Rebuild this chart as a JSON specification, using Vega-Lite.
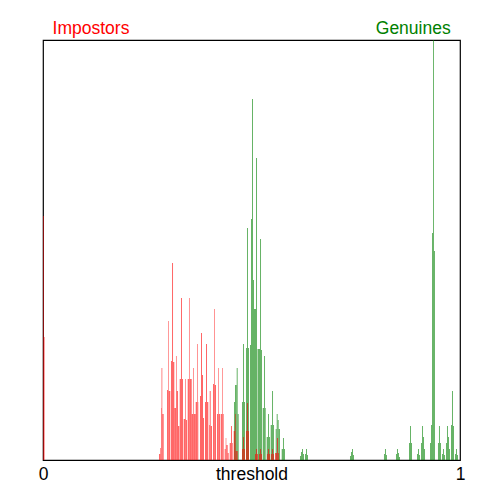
{
  "$schema": "https://vega.github.io/schema/vega-lite/v6.json",
  "width": 417,
  "height": 420,
  "autosize": {"type": "none"},
  "padding": {"left": 43, "top": 40, "right": 40, "bottom": 40},
  "background": "white",
  "config": {
    "font": "Liberation Sans",
    "view": {"stroke": "black", "strokeWidth": 1.2}
  },
  "datasets": {
    "gen": [
      {"a": 0.4580, "b": 0.4604, "n": 58}, {"a": 0.4604, "b": 0.4645, "n": 75}, {"a": 0.4645, "b": 0.4669, "n": 92}, {"a": 0.4669, "b": 0.4693, "n": 46},
      {"a": 0.4772, "b": 0.4796, "n": 58}, {"a": 0.4796, "b": 0.4820, "n": 116}, {"a": 0.4820, "b": 0.4844, "n": 58},
      {"a": 0.4868, "b": 0.4892, "n": 112}, {"a": 0.4892, "b": 0.4916, "n": 232}, {"a": 0.4916, "b": 0.4940, "n": 112},
      {"a": 0.4964, "b": 0.4988, "n": 115}, {"a": 0.4988, "b": 0.5012, "n": 241}, {"a": 0.5012, "b": 0.5036, "n": 361}, {"a": 0.5036, "b": 0.5060, "n": 180},
      {"a": 0.5060, "b": 0.5108, "n": 151}, {"a": 0.5108, "b": 0.5132, "n": 302}, {"a": 0.5144, "b": 0.5204, "n": 111}, {"a": 0.5204, "b": 0.5228, "n": 221}, {"a": 0.5228, "b": 0.5252, "n": 110},
      {"a": 0.5269, "b": 0.5300, "n": 52}, {"a": 0.5300, "b": 0.5324, "n": 104}, {"a": 0.5324, "b": 0.5341, "n": 52},
      {"a": 0.5364, "b": 0.5396, "n": 23}, {"a": 0.5396, "b": 0.5420, "n": 46}, {"a": 0.5420, "b": 0.5444, "n": 23},
      {"a": 0.5460, "b": 0.5492, "n": 35}, {"a": 0.5492, "b": 0.5516, "n": 69}, {"a": 0.5516, "b": 0.5540, "n": 35},
      {"a": 0.5580, "b": 0.5604, "n": 31}, {"a": 0.5604, "b": 0.5628, "n": 46}, {"a": 0.5628, "b": 0.5652, "n": 40}, {"a": 0.5652, "b": 0.5683, "n": 31},
      {"a": 0.5724, "b": 0.5755, "n": 11}, {"a": 0.5755, "b": 0.5779, "n": 22}, {"a": 0.5779, "b": 0.5803, "n": 11},
      {"a": 0.6163, "b": 0.6187, "n": 4}, {"a": 0.6187, "b": 0.6211, "n": 8}, {"a": 0.6211, "b": 0.6235, "n": 11}, {"a": 0.6235, "b": 0.6259, "n": 6},
      {"a": 0.6283, "b": 0.6307, "n": 6}, {"a": 0.6307, "b": 0.6331, "n": 11}, {"a": 0.6331, "b": 0.6355, "n": 5},
      {"a": 0.7362, "b": 0.7386, "n": 4}, {"a": 0.7386, "b": 0.7410, "n": 8}, {"a": 0.7410, "b": 0.7434, "n": 11}, {"a": 0.7434, "b": 0.7458, "n": 5},
      {"a": 0.8177, "b": 0.8201, "n": 6}, {"a": 0.8201, "b": 0.8225, "n": 11}, {"a": 0.8225, "b": 0.8249, "n": 5},
      {"a": 0.8465, "b": 0.8489, "n": 6}, {"a": 0.8489, "b": 0.8513, "n": 11}, {"a": 0.8513, "b": 0.8537, "n": 7}, {"a": 0.8537, "b": 0.8561, "n": 3},
      {"a": 0.8777, "b": 0.8801, "n": 17}, {"a": 0.8801, "b": 0.8825, "n": 34}, {"a": 0.8825, "b": 0.8849, "n": 17},
      {"a": 0.8969, "b": 0.8993, "n": 6}, {"a": 0.8993, "b": 0.9017, "n": 11}, {"a": 0.9017, "b": 0.9041, "n": 5},
      {"a": 0.9065, "b": 0.9089, "n": 17}, {"a": 0.9089, "b": 0.9113, "n": 34}, {"a": 0.9113, "b": 0.9137, "n": 23}, {"a": 0.9137, "b": 0.9161, "n": 11},
      {"a": 0.9281, "b": 0.9305, "n": 17}, {"a": 0.9305, "b": 0.9329, "n": 35}, {"a": 0.9329, "b": 0.9353, "n": 227}, {"a": 0.9353, "b": 0.9376, "n": 420}, {"a": 0.9376, "b": 0.9400, "n": 209},
      {"a": 0.9472, "b": 0.9496, "n": 17}, {"a": 0.9496, "b": 0.9520, "n": 34}, {"a": 0.9520, "b": 0.9544, "n": 17},
      {"a": 0.9568, "b": 0.9592, "n": 6}, {"a": 0.9592, "b": 0.9616, "n": 11}, {"a": 0.9616, "b": 0.9640, "n": 5},
      {"a": 0.9664, "b": 0.9688, "n": 17}, {"a": 0.9688, "b": 0.9712, "n": 34}, {"a": 0.9712, "b": 0.9736, "n": 23}, {"a": 0.9736, "b": 0.9760, "n": 11},
      {"a": 0.9784, "b": 0.9808, "n": 35}, {"a": 0.9808, "b": 0.9832, "n": 69}, {"a": 0.9832, "b": 0.9856, "n": 34},
      {"a": 0.9880, "b": 0.9904, "n": 6}, {"a": 0.9904, "b": 0.9928, "n": 11}, {"a": 0.9928, "b": 0.9952, "n": 5}
    ],
    "imp": [
      {"a": 0.0000, "b": 0.0019, "n": 244}, {"a": 0.0019, "b": 0.0038, "n": 123},
      {"a": 0.2782, "b": 0.2813, "n": 6}, {"a": 0.2813, "b": 0.2830, "n": 12}, {"a": 0.2830, "b": 0.2842, "n": 52}, {"a": 0.2842, "b": 0.2861, "n": 92}, {"a": 0.2861, "b": 0.2894, "n": 46},
      {"a": 0.2974, "b": 0.2998, "n": 70}, {"a": 0.2998, "b": 0.3014, "n": 139}, {"a": 0.3014, "b": 0.3053, "n": 69},
      {"a": 0.3070, "b": 0.3094, "n": 99}, {"a": 0.3094, "b": 0.3118, "n": 197}, {"a": 0.3118, "b": 0.3149, "n": 98},
      {"a": 0.3149, "b": 0.3189, "n": 52}, {"a": 0.3189, "b": 0.3206, "n": 104}, {"a": 0.3206, "b": 0.3237, "n": 69}, {"a": 0.3237, "b": 0.3269, "n": 34},
      {"a": 0.3278, "b": 0.3309, "n": 81}, {"a": 0.3309, "b": 0.3333, "n": 162}, {"a": 0.3333, "b": 0.3357, "n": 81},
      {"a": 0.3374, "b": 0.3412, "n": 41}, {"a": 0.3412, "b": 0.3429, "n": 81}, {"a": 0.3429, "b": 0.3453, "n": 40},
      {"a": 0.3470, "b": 0.3501, "n": 81}, {"a": 0.3501, "b": 0.3518, "n": 162}, {"a": 0.3518, "b": 0.3566, "n": 81},
      {"a": 0.3566, "b": 0.3597, "n": 46}, {"a": 0.3597, "b": 0.3614, "n": 92}, {"a": 0.3614, "b": 0.3662, "n": 46},
      {"a": 0.3662, "b": 0.3693, "n": 58}, {"a": 0.3693, "b": 0.3710, "n": 116}, {"a": 0.3710, "b": 0.3724, "n": 58},
      {"a": 0.3765, "b": 0.3789, "n": 64}, {"a": 0.3789, "b": 0.3813, "n": 127}, {"a": 0.3813, "b": 0.3837, "n": 85}, {"a": 0.3837, "b": 0.3861, "n": 42},
      {"a": 0.3885, "b": 0.3909, "n": 58}, {"a": 0.3909, "b": 0.3933, "n": 116}, {"a": 0.3933, "b": 0.3964, "n": 58},
      {"a": 0.3981, "b": 0.3998, "n": 35}, {"a": 0.3998, "b": 0.4022, "n": 69}, {"a": 0.4022, "b": 0.4053, "n": 34},
      {"a": 0.4077, "b": 0.4101, "n": 76}, {"a": 0.4101, "b": 0.4118, "n": 151}, {"a": 0.4118, "b": 0.4149, "n": 75},
      {"a": 0.4173, "b": 0.4197, "n": 46}, {"a": 0.4197, "b": 0.4213, "n": 92}, {"a": 0.4213, "b": 0.4252, "n": 46},
      {"a": 0.4269, "b": 0.4293, "n": 46}, {"a": 0.4293, "b": 0.4309, "n": 92}, {"a": 0.4309, "b": 0.4333, "n": 46},
      {"a": 0.4357, "b": 0.4381, "n": 11}, {"a": 0.4381, "b": 0.4396, "n": 22}, {"a": 0.4396, "b": 0.4429, "n": 15}, {"a": 0.4429, "b": 0.4453, "n": 7},
      {"a": 0.4477, "b": 0.4508, "n": 17}, {"a": 0.4508, "b": 0.4532, "n": 34}, {"a": 0.4532, "b": 0.4549, "n": 17},
      {"a": 0.4573, "b": 0.4604, "n": 29}, {"a": 0.4604, "b": 0.4621, "n": 46}, {"a": 0.4621, "b": 0.4669, "n": 9},
      {"a": 0.4772, "b": 0.4796, "n": 11}, {"a": 0.4796, "b": 0.4820, "n": 23}, {"a": 0.4820, "b": 0.4844, "n": 11},
      {"a": 0.4868, "b": 0.4892, "n": 29}, {"a": 0.4892, "b": 0.4916, "n": 57}, {"a": 0.4916, "b": 0.4940, "n": 29},
      {"a": 0.5084, "b": 0.5108, "n": 6}, {"a": 0.5108, "b": 0.5132, "n": 11}, {"a": 0.5132, "b": 0.5156, "n": 6},
      {"a": 0.5180, "b": 0.5204, "n": 6}, {"a": 0.5204, "b": 0.5228, "n": 11}, {"a": 0.5228, "b": 0.5252, "n": 6},
      {"a": 0.5372, "b": 0.5396, "n": 6}, {"a": 0.5396, "b": 0.5420, "n": 11}, {"a": 0.5420, "b": 0.5444, "n": 6},
      {"a": 0.5468, "b": 0.5492, "n": 6}, {"a": 0.5492, "b": 0.5516, "n": 11}, {"a": 0.5516, "b": 0.5540, "n": 6},
      {"a": 0.5564, "b": 0.5612, "n": 7}, {"a": 0.5612, "b": 0.5636, "n": 22}, {"a": 0.5636, "b": 0.5659, "n": 7}
    ]
  },
  "layer": [
    {
      "data": {"name": "gen"},
      "mark": {"type": "bar", "color": "#008000", "opacity": 0.6},
      "encoding": {
        "x": {
          "field": "a", "type": "quantitative", "scale": {"domain": [0, 1], "nice": false}, "title": "threshold",
          "axis": {
            "values": [0, 1], "format": "d", "ticks": false, "domain": false, "grid": false,
            "labelFontSize": 17.5, "labelColor": "black", "labelPadding": 19, "labelBaseline": "alphabetic",
            "labelFlush": false, "labelBound": false, "labelFont": "Liberation Sans", "labelOverlap": false,
            "titleFontSize": 17.5, "titleFontWeight": "normal", "titleColor": "black", "titleFont": "Liberation Sans",
            "titleY": 19, "titleBaseline": "alphabetic"
          }
        },
        "x2": {"field": "b"},
        "y": {"field": "n", "type": "quantitative", "scale": {"domain": [0, 420], "nice": false}, "axis": null},
        "y2": {"datum": 0}
      }
    },
    {
      "data": {"name": "imp"},
      "mark": {"type": "bar", "color": "#ff0000", "opacity": 0.6},
      "encoding": {
        "x": {"field": "a", "type": "quantitative", "scale": {"domain": [0, 1], "nice": false}, "title": "threshold"},
        "x2": {"field": "b"},
        "y": {"field": "n", "type": "quantitative", "scale": {"domain": [0, 420], "nice": false}, "axis": null},
        "y2": {"datum": 0}
      }
    },
    {
      "data": {"values": [{"label": "Impostors", "a": 0.023, "n": 426}]},
      "mark": {"type": "text", "align": "left", "baseline": "alphabetic", "color": "#ff0000", "fontSize": 17.5, "font": "Liberation Sans", "clip": false},
      "encoding": {
        "x": {"field": "a", "type": "quantitative", "scale": {"domain": [0, 1], "nice": false}, "title": "threshold"},
        "y": {"field": "n", "type": "quantitative", "scale": {"domain": [0, 420], "nice": false}, "axis": null},
        "text": {"field": "label"}
      }
    },
    {
      "data": {"values": [{"label": "Genuines", "a": 0.9777, "n": 426}]},
      "mark": {"type": "text", "align": "right", "baseline": "alphabetic", "color": "#008000", "fontSize": 17.5, "font": "Liberation Sans", "clip": false},
      "encoding": {
        "x": {"field": "a", "type": "quantitative", "scale": {"domain": [0, 1], "nice": false}, "title": "threshold"},
        "y": {"field": "n", "type": "quantitative", "scale": {"domain": [0, 420], "nice": false}, "axis": null},
        "text": {"field": "label"}
      }
    }
  ]
}
